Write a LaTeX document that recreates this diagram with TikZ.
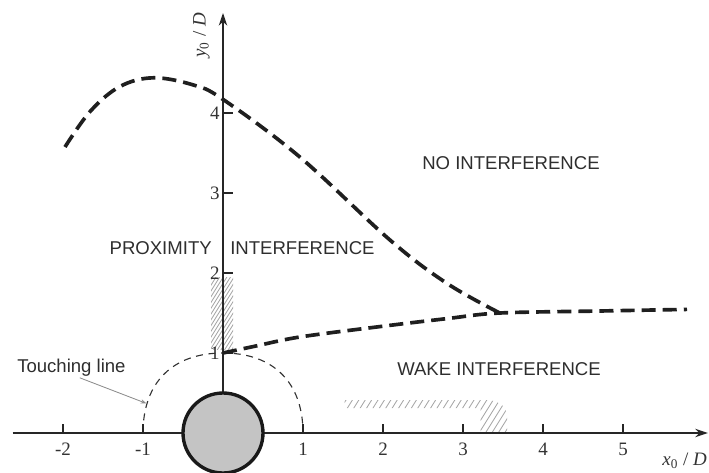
\documentclass[tikz,border=0pt]{standalone}
\usepackage{fontspec}
\setmainfont{Liberation Serif}
\newfontfamily\labelsans{Liberation Sans}
\usetikzlibrary{arrows.meta}
\begin{document}
\begin{tikzpicture}[x=2cm,y=2cm,
  axis/.style={line width=1pt, black!85, -{Stealth[length=9pt,width=6pt]}},
  tickmark/.style={line width=0.9pt, black!85},
  ticklabel/.style={font=\fontsize{13.5}{15}\selectfont, text=black!80, inner sep=0pt},
  region/.style={font=\labelsans\fontsize{13.2}{15}\selectfont, text=black!82, inner sep=0pt},
  boundary/.style={line width=2.6pt, black!88, dash pattern=on 10pt off 5pt},
  touchline/.style={line width=0.8pt, black!80, dash pattern=on 5pt off 4pt},
  hatchline/.style={line width=0.6pt, black!35},
  leader/.style={line width=0.6pt, black!45, -{Stealth[length=4pt,width=3pt]}},
  cyl/.style={circle, draw=black!90, line width=2.4pt, fill=black!23, minimum size=2cm, inner sep=0pt},
]
\useasboundingbox (-2.7875,-0.4875) rectangle (6.075,5.4125);

% hatched strip near the axis
\begin{scope}
  \clip (-0.15,1.04) rectangle (0.125,1.95);
  \foreach \k in {0,...,22} \draw[hatchline] (-0.2,0.4+0.072*\k) -- ++(0.5,0.8);
\end{scope}

% hatched band in the wake
\begin{scope}
  \clip (1.52,0.31) -- (3.22,0.31) -- (3.22,0) -- (3.55,0) -- (3.55,0.2)
        .. controls (3.55,0.33) and (3.45,0.41) .. (3.3,0.41) -- (1.52,0.41) -- cycle;
  \foreach \k in {0,...,34} \draw[hatchline] (1.2+0.08*\k,0) -- ++(0.3,0.48);
\end{scope}

% touching line
\draw[touchline] (-1,0) .. controls (-1,0.63) and (-0.63,1) .. (0,1)
                 .. controls (0.63,1) and (1,0.63) .. (1,0);

% axes
\coordinate (xstart) at (-2.63,0);
\coordinate (xend) at (6.06,0);
\coordinate (ystart) at (0,0.5);
\coordinate (yend) at (0,5.25);
\draw[axis] (xstart) -- (xend);
\draw[axis] (ystart) -- (yend);

% ticks
\foreach \x [count=\i] in {-2,-1,1,2,3,4,5} {
  \draw[tickmark] (\x,0) -- (\x,0.11);
  \node[ticklabel, anchor=base] (xt\i) at (\x,-0.275) {\x};
}
\foreach \y in {1,2,3,4} {
  \draw[tickmark] (0,\y) -- (0.125,\y);
  \node[ticklabel, anchor=east] (yt\y) at (-0.04,\y) {\y};
}

% cylinder
\node[cyl] (cyl) at (0,0) {};

% boundaries
\draw[boundary] plot[smooth, tension=0.6] coordinates {(-1.975,3.575) (-1.66,4.02) (-1.29,4.33) (-0.87,4.44) (-0.37,4.35) (0,4.17) (0.96,3.45) (2.09,2.41) (2.8,1.87) (3.46,1.5)};
\draw[boundary] plot[smooth, tension=0.55] coordinates {(0,1.0) (0.4,1.085) (0.96,1.2) (1.96,1.33) (2.8,1.43) (3.46,1.5) (4.71,1.525) (5.8,1.545)};

% labels
\node[region, anchor=base] (noint) at (3.6,3.2875) {NO INTERFERENCE};
\node[region, anchor=base east] (prox) at (-0.1375,2.225) {PROXIMITY};
\node[region, anchor=base west] (proxint) at (0.0875,2.225) {INTERFERENCE};
\node[region, anchor=base] (wake) at (3.45,0.725) {WAKE INTERFERENCE};
\node[region, anchor=base west] (touch) at (-2.575,0.7625) {Touching line};
\coordinate (leadstart) at (-1.79,0.69);
\coordinate (touchpt) at (-0.958,0.37);
\draw[leader] (leadstart) -- (touchpt);

\node[ticklabel, rotate=90] (ylab) at (-0.27,4.97) {\textit{y}\textsubscript{0} / \textit{D}};
\node[ticklabel, anchor=base west] (xlab) at (5.49,-0.41) {\textit{x}\textsubscript{0} / \textit{D}};
\end{tikzpicture}
\end{document}
